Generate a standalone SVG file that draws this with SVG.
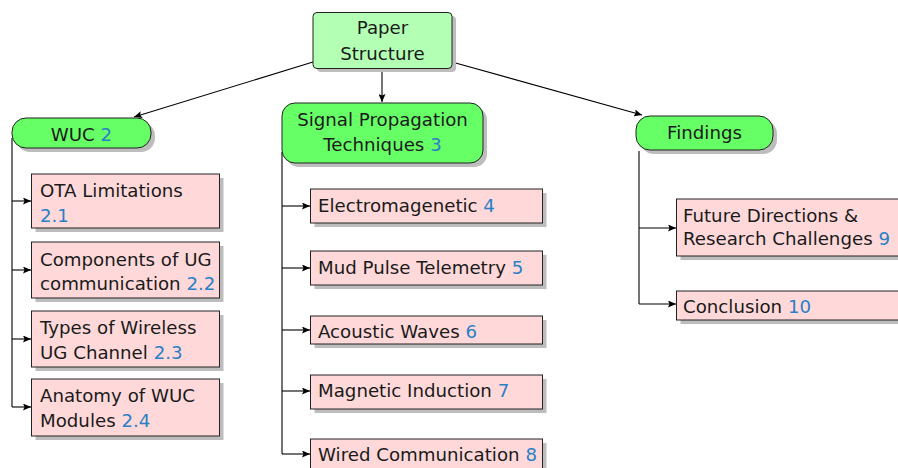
<svg xmlns="http://www.w3.org/2000/svg" width="898" height="468" viewBox="0 0 898 468">
<defs>
<marker id="arr" markerUnits="userSpaceOnUse" markerWidth="9" markerHeight="7" refX="8" refY="3.5" orient="auto">
<path d="M0,0 L8,3.5 L0,7 L1.5,3.5 z" fill="#000"/>
</marker>
<style>
text{font-family:"DejaVu Sans",sans-serif;font-size:18.2px;fill:#1a1a1a}
.c{text-anchor:middle}
.n{fill:#2a80c6}
.sh{fill:#bdbdbd}
.root{fill:#b3ffb3;stroke:#222;stroke-width:1}
.sec{fill:#66ff66;stroke:#222;stroke-width:1}
.sub{fill:#ffd9d9;stroke:#222;stroke-width:1}
.e{fill:none;stroke:#000;stroke-width:1.1}
.ea{fill:none;stroke:#000;stroke-width:1.1;marker-end:url(#arr)}
</style>
</defs>
<rect width="898" height="468" fill="#fff"/>

<g id="edges">
<line class="ea" x1="382" y1="68" x2="382" y2="102"/>
<line class="ea" x1="313" y1="62" x2="134" y2="117"/>
<line class="ea" x1="452" y1="62" x2="642" y2="115"/>
<path class="e" d="M12,138 V407"/>
<line class="ea" x1="12" y1="201" x2="31" y2="201"/>
<line class="ea" x1="12" y1="270" x2="31" y2="270"/>
<line class="ea" x1="12" y1="339" x2="31" y2="339"/>
<line class="ea" x1="12" y1="407" x2="31" y2="407"/>
<path class="e" d="M282,152 V454"/>
<line class="ea" x1="282" y1="206" x2="310" y2="206"/>
<line class="ea" x1="282" y1="268" x2="310" y2="268"/>
<line class="ea" x1="282" y1="330" x2="310" y2="330"/>
<line class="ea" x1="282" y1="391" x2="310" y2="391"/>
<line class="ea" x1="282" y1="454" x2="310" y2="454"/>
<path class="e" d="M639,151 V304"/>
<line class="ea" x1="639" y1="228" x2="676" y2="228"/>
<line class="ea" x1="639" y1="304" x2="676" y2="304"/>
</g>

<g id="root">
<rect class="sh" x="317" y="16" width="139" height="56" rx="4"/>
<rect class="root" x="313" y="12.5" width="139" height="56" rx="4"/>
<text class="c" x="382.5" y="34">Paper</text>
<text class="c" x="382.5" y="60">Structure</text>
</g>

<g id="wuc">
<rect class="sh" x="16" y="122" width="139" height="30" rx="14"/>
<rect class="sec" x="12" y="118" width="139" height="30" rx="14"/>
<text class="c" x="81.5" y="140.5">WUC <tspan class="n">2</tspan></text>
</g>

<g id="signal">
<rect class="sh" x="286" y="107" width="201" height="60" rx="13"/>
<rect class="sec" x="282" y="103" width="201" height="60" rx="13"/>
<text class="c" x="382.5" y="126">Signal Propagation</text>
<text class="c" x="382.5" y="151">Techniques <tspan class="n">3</tspan></text>
</g>

<g id="findings">
<rect class="sh" x="640" y="120" width="137" height="34" rx="14"/>
<rect class="sec" x="636" y="116" width="137" height="34" rx="14"/>
<text class="c" x="704.5" y="139">Findings</text>
</g>

<g id="ota">
<rect class="sh" x="35.5" y="178" width="188" height="54"/>
<rect class="sub" x="31.5" y="174" width="188" height="54"/>
<text x="40" y="197">OTA Limitations</text>
<text x="40" y="222" class="n">2.1</text>
</g>
<g id="components">
<rect class="sh" x="35.5" y="246" width="188" height="56"/>
<rect class="sub" x="31.5" y="242" width="188" height="56"/>
<text x="40" y="266">Components of UG</text>
<text x="40" y="290">communication <tspan class="n">2.2</tspan></text>
</g>
<g id="types">
<rect class="sh" x="35.5" y="315" width="188" height="56"/>
<rect class="sub" x="31.5" y="311" width="188" height="56"/>
<text x="40" y="334">Types of Wireless</text>
<text x="40" y="359">UG Channel <tspan class="n">2.3</tspan></text>
</g>
<g id="anatomy">
<rect class="sh" x="35.5" y="383" width="188" height="57"/>
<rect class="sub" x="31.5" y="379" width="188" height="57"/>
<text x="40" y="402">Anatomy of WUC</text>
<text x="40" y="427">Modules <tspan class="n">2.4</tspan></text>
</g>

<g id="em">
<rect class="sh" x="314.5" y="193" width="232" height="34"/>
<rect class="sub" x="310.5" y="189" width="232" height="34"/>
<text x="318" y="212">Electromagenetic <tspan class="n">4</tspan></text>
</g>
<g id="mud">
<rect class="sh" x="314.5" y="255" width="232" height="34"/>
<rect class="sub" x="310.5" y="251" width="232" height="34"/>
<text x="318" y="274">Mud Pulse Telemetry <tspan class="n">5</tspan></text>
</g>
<g id="acoustic">
<rect class="sh" x="314.5" y="320" width="232" height="28"/>
<rect class="sub" x="310.5" y="316" width="232" height="28"/>
<text x="318" y="337.5">Acoustic Waves <tspan class="n">6</tspan></text>
</g>
<g id="magnetic">
<rect class="sh" x="314.5" y="379" width="232" height="34"/>
<rect class="sub" x="310.5" y="375" width="232" height="34"/>
<text x="318" y="397">Magnetic Induction <tspan class="n">7</tspan></text>
</g>
<g id="wired">
<rect class="sh" x="314.5" y="443" width="232" height="34"/>
<rect class="sub" x="310.5" y="439" width="232" height="34"/>
<text x="318" y="461">Wired Communication <tspan class="n">8</tspan></text>
</g>

<g id="future">
<rect class="sh" x="680.5" y="203" width="240" height="57"/>
<rect class="sub" x="676.5" y="199" width="240" height="57"/>
<text x="683" y="222">Future Directions &amp;</text>
<text x="683" y="245">Research Challenges <tspan class="n">9</tspan></text>
</g>
<g id="conclusion">
<rect class="sh" x="680.5" y="295" width="240" height="29"/>
<rect class="sub" x="676.5" y="291" width="240" height="29"/>
<text x="683" y="313">Conclusion <tspan class="n">10</tspan></text>
</g>
</svg>
